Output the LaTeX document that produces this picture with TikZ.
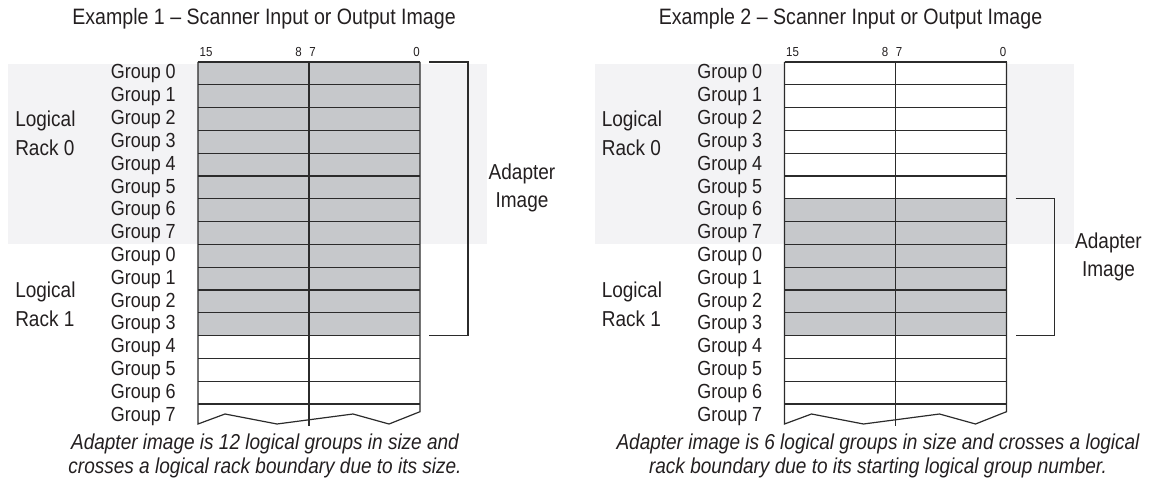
\documentclass[tikz,border=0pt]{standalone}
\usepackage{fontspec}
\setmainfont{Liberation Sans}[FakeStretch=0.88]
\usepackage{tikz}
\usetikzlibrary{calc}
\definecolor{imgfill}{HTML}{C6C8CB}
\definecolor{rackbg}{HTML}{F3F3F5}
\definecolor{rulecol}{HTML}{2B2B2B}
\definecolor{ink}{HTML}{231F20}

\begin{document}
\begin{tikzpicture}[x=0.75pt,y=-0.75pt,
  every node/.style={inner sep=0pt,text=ink},
  rule/.style={draw=rulecol,line width=0.9pt},
  grp/.style={anchor=base east,font=\fontsize{15.3}{18}\selectfont},
  rack/.style={anchor=base west,font=\fontsize{16.2}{19}\selectfont},
  adp/.style={anchor=base,font=\fontsize{16.2}{19}\selectfont},
  title/.style={anchor=base,font=\fontsize{16.7}{20}\selectfont},
  bits/.style={anchor=base,font=\fontsize{9.8}{11}\selectfont},
  captxt/.style={anchor=base,font=\itshape\fontsize{16.2}{19}\selectfont}]
  \useasboundingbox (0,0) rectangle (1155,481);
  % one scanner image per example, rows of 22.8px
  \foreach \ex/\dx/\ga in {1/0/0,2/586.5/6}{
    \begin{scope}[shift={(\dx,0)}]
      \fill[rackbg] (8,64) rectangle (487,244.4);
      \fill[white] (198,62) rectangle (420,404);
      \fill[imgfill] (198,{62+22.8*\ga}) rectangle (420,335.6);
      \foreach \r in {0,...,15}
        \draw[rule] (198,{62+22.8*\r}) -- (420,{62+22.8*\r});
      \draw[rule] (198,62) -- (198,424) -- (225,414) -- (277,424)
        -- (353,414) -- (389,424) -- (420,411.7) -- (420,62);
      \draw[rule] (309,62) -- (309,426);
      \foreach \r in {0,...,15}{
        \pgfmathtruncatemacro\gn{mod(\r,8)}
        \node[grp] (grp\ex-\r) at (176,{62+22.8*\r+17}) {Group \gn};
      }
      \node[title] (title\ex) at (264,25) {Example \ex\ -- Scanner Input or Output Image};
      \node[bits] (bit\ex-15) at (206,56.5) {15};
      \node[bits] (bit\ex-8) at (298.5,56.5) {8};
      \node[bits] (bit\ex-7) at (312.5,56.5) {7};
      \node[bits] (bit\ex-0) at (416.5,56.5) {0};
      \node[rack] (rack\ex-0a) at (15,127) {Logical};
      \node[rack] (rack\ex-0b) at (15,156) {Rack 0};
      \node[rack] (rack\ex-1a) at (15,297) {Logical};
      \node[rack] (rack\ex-1b) at (15,326) {Rack 1};
      % bracket round the adapter image
      \coordinate (brk\ex-t) at (429,{62+22.8*\ga});
      \coordinate (brk\ex-b) at (429,335.6);
      \draw[rule,line width=0.8pt] (brk\ex-t) -- ++(39,0) |- (brk\ex-b);
      \coordinate (adp\ex) at ($(brk\ex-t)!0.5!(brk\ex-b)+(93,0)$);
      \node[adp] (adp\ex-a) at ($(adp\ex)+(0,-19)$) {Adapter};
      \node[adp] (adp\ex-b) at ($(adp\ex)+(0,9)$) {Image};
    \end{scope}
  }
  \node[captxt] (cap1-a) at (265,449) {Adapter image is 12 logical groups in size and};
  \node[captxt] (cap1-b) at (265,473) {crosses a logical rack boundary due to its size.};
  \node[captxt] (cap2-a) at (878,449) {Adapter image is 6 logical groups in size and crosses a logical};
  \node[captxt] (cap2-b) at (878,473) {rack boundary due to its starting logical group number.};
\end{tikzpicture}
\end{document}
